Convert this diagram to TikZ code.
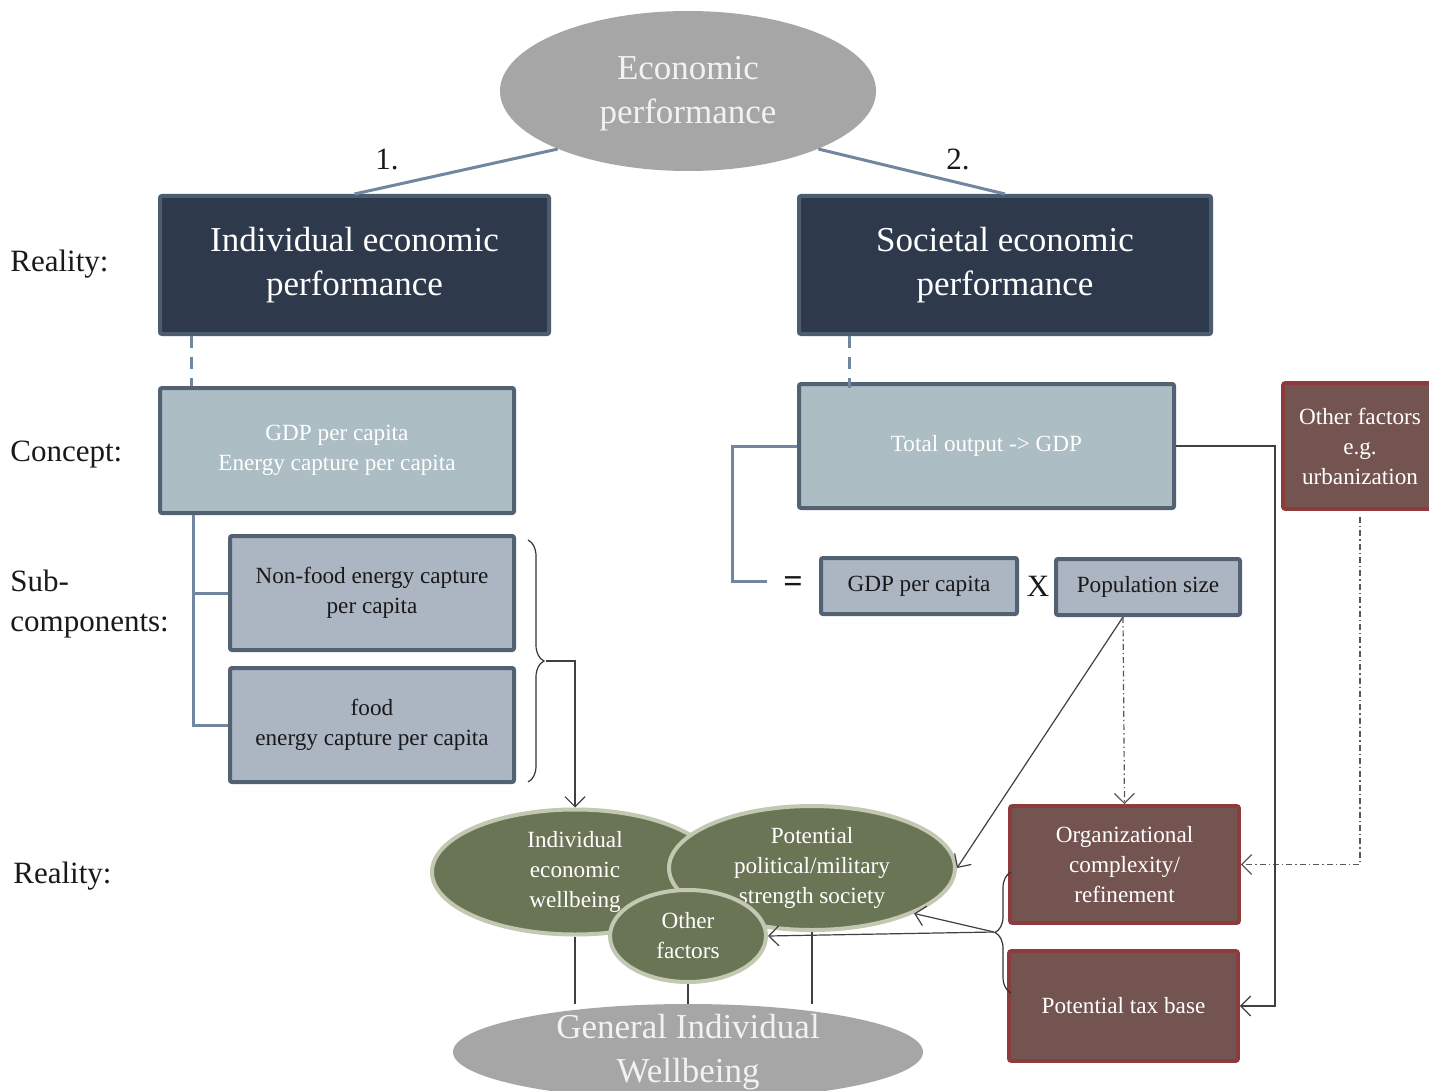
\documentclass[tikz,border=0pt]{standalone}
\usepackage{fontspec}
\setmainfont{Liberation Serif}
\usetikzlibrary{shapes.geometric,arrows.meta,decorations.pathreplacing}

\definecolor{ovalgray}{HTML}{A6A6A6}
\definecolor{navy}{HTML}{2E3A4B}
\definecolor{navyline}{HTML}{4C5D70}
\definecolor{concfill}{HTML}{ACBEC4}
\definecolor{subfill}{HTML}{ACB5C2}
\definecolor{boxline}{HTML}{536273}
\definecolor{linkblue}{HTML}{7186A0}
\definecolor{redfill}{HTML}{745451}
\definecolor{redline}{HTML}{8C3C3C}
\definecolor{olive}{HTML}{6A7556}
\definecolor{oliveline}{HTML}{C3C8B2}
\definecolor{paletext}{HTML}{F2F2F2}

\tikzset{
  bigtext/.style={font=\fontsize{17.5}{22}\selectfont},
  smalltext/.style={font=\fontsize{11.6}{15}\selectfont},
  rowlabel/.style={font=\fontsize{15.5}{20}\selectfont, anchor=west, align=left, text=black!90, inner sep=0pt},
  numlabel/.style={font=\fontsize{15.5}{20}\selectfont, text=black!90, inner sep=0pt},
  grayoval/.style={ellipse, fill=ovalgray, inner sep=0pt},
  ovaltext/.style={bigtext, text=paletext, align=center, inner sep=0pt},
  realbox/.style={rectangle, rounded corners=1pt, fill=navy, draw=navyline, line width=2pt,
    text=white, bigtext, align=center},
  concbox/.style={rectangle, rounded corners=1pt, fill=concfill, draw=boxline, line width=2pt,
    text=white, smalltext, align=center},
  subbox/.style={rectangle, rounded corners=1pt, fill=subfill, draw=boxline, line width=2pt,
    text=black!90, smalltext, align=center},
  redbox/.style={rectangle, rounded corners=1pt, fill=redfill, draw=redline, line width=1.8pt,
    text=white, smalltext, align=center},
  greenoval/.style={ellipse, fill=olive, draw=oliveline, line width=2pt, text=white,
    smalltext, align=center, inner sep=0pt},
  link/.style={draw=linkblue, line width=1.5pt},
  dashlink/.style={link, dash pattern=on 6pt off 4.5pt},
  thinline/.style={draw=black!75, line width=0.6pt},
  thinarrow/.style={thinline, -{Straight Barb[length=5pt,width=10pt]}},
  dotarrow/.style={draw=black!65, line width=0.6pt,
    dash pattern=on 3pt off 1.5pt on 0.7pt off 1.5pt,
    -{Straight Barb[length=5pt,width=10pt]}},
  bracestyle/.style={draw=black!80, line width=0.6pt, decorate},
}

\begin{document}
\begin{tikzpicture}[x=0.5pt,y=-0.5pt]
\useasboundingbox (0,0) rectangle (1429,1091);
\fill[white] (0,0) rectangle (1429,1091);
\clip (0,12) rectangle (1429,1091);

% ---- top oval ----
\node[grayoval, minimum width=188pt, minimum height=80pt] (ep) at (688,91) {};
\node[ovaltext] (eptext) at (688,94) {Economic\\performance};

% ---- reality boxes ----
\node[realbox, minimum width=194.5pt, minimum height=69pt] (ind) at (354.5,265)
  {Individual economic\\performance};
\node[realbox, minimum width=206pt, minimum height=69pt] (soc) at (1005,265)
  {Societal economic\\performance};

\draw[link] (ep.204) -- (ind.north);
\draw[link] (ep.336) -- (soc.north);
\node[numlabel] (one) at (387,159) {1.};
\node[numlabel] (two) at (958,159) {2.};

% ---- concept boxes ----
\node[concbox, minimum width=177pt, minimum height=62.5pt] (con1) at (337,450.5)
  {GDP per capita\\Energy capture per capita};
\node[concbox, minimum width=187.5pt, minimum height=62pt] (con2) at (986.5,446)
  {Total output -> GDP};

\draw[dashlink] ([xshift=16.5pt]ind.south west) -- ([xshift=16.5pt]con1.north west);
\draw[dashlink] ([xshift=26pt]soc.south west) -- ([xshift=26pt,yshift=-3pt]con2.north west);

% ---- sub-components ----
\node[subbox, minimum width=142pt, minimum height=57pt] (subA) at (372,593)
  {Non-food energy capture\\per capita};
\node[subbox, minimum width=142pt, minimum height=57pt] (subB) at (372,725)
  {food\\energy capture per capita};

\draw[link] ([xshift=17.5pt]con1.south west) |- (subA.west);
\draw[link] ([xshift=17.5pt]con1.south west) |- (subB.west);

% ---- GDP decomposition ----
\node[numlabel, font=\fontsize{17}{20}\bfseries] (eq) at (793,585) {=};
\node[subbox, minimum width=98pt, minimum height=28pt] (gdp) at (919,586) {GDP per capita};
\node[numlabel] (times) at (1038,586) {X};
\node[subbox, minimum width=92pt, minimum height=28pt] (pop) at (1148,587) {Population size};
\coordinate (eqin) at (767,581);
\draw[link] (con2.west) -- ++(-65,0) |- (eqin);

% ---- red boxes ----
\node[redbox, minimum width=77pt, minimum height=63pt] (oth) at (1360,446)
  {Other factors\\e.g.\\urbanization};
\node[redbox, minimum width=114.5pt, minimum height=58.5pt] (org) at (1124.5,864.5)
  {Organizational\\complexity/\\refinement};
\node[redbox, minimum width=114.5pt, minimum height=55pt] (tax) at (1123.5,1006)
  {Potential tax base};

\coordinate (popB) at ([xshift=34.5pt]pop.south west);

% ---- row labels ----
\node[rowlabel] (lreal1) at (10,264) {Reality:};
\node[rowlabel] (lconc) at (10,455) {Concept:};
\node[rowlabel] (lsub) at (10,604) {Sub-\\components:};
\node[rowlabel] (lreal2) at (13,876) {Reality:};

% ---- green ovals ----
\node[greenoval, minimum width=143pt, minimum height=62.5pt] (iew) at (575,872)
  {Individual\\economic\\wellbeing};
\node[greenoval, minimum width=143pt, minimum height=62pt] (pps) at (812,868)
  {Potential\\political/military\\strength society};
\node[greenoval, minimum width=78pt, minimum height=46pt] (ofe) at (688,936)
  {Other\\factors};

% ---- bottom oval ----
\node[grayoval, minimum width=235pt, minimum height=48pt] (giw) at (688,1052) {};
\node[ovaltext] (giwtext) at (688,1052) {General Individual\\Wellbeing};

\draw[thinline] (iew.south) -- (iew.south |- giw.north);
\draw[thinline] (ofe.south) -- (giw.north);
\draw[thinline] (pps.south) -- (pps.south |- giw.north);

% ---- braces and arrows ----
\coordinate (bA1) at (528,540);
\coordinate (bA2) at (528,782);
\draw[bracestyle, decoration={brace, amplitude=8pt}] (bA1) -- (bA2);
\coordinate (bAtip) at (546,661);
\draw[thinarrow] (bAtip) -| (iew.north);

\coordinate (bR1) at (1011,993);
\coordinate (bR2) at (1011,872);
\draw[bracestyle, decoration={brace, amplitude=8pt}] (bR1) -- (bR2);
\coordinate (bRtip) at (994,932);
\draw[thinarrow] (bRtip) -- (pps.336);
\draw[thinarrow] (bRtip) -- (ofe.east);

\draw[thinarrow] (popB) -- (pps.east);
\draw[dotarrow] (popB) -- (org.north);
\draw[dotarrow] ([yshift=-3pt]oth.south) |- (org.east);
\draw[thinarrow] (con2.east) -- ++(99,0) |- (tax.east);

\end{tikzpicture}
\end{document}
